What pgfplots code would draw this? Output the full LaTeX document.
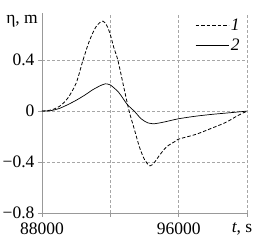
\documentclass[border=0pt]{standalone}
\usepackage{fontspec}
\setmainfont{Liberation Serif}
\usepackage{pgfplots}
\pgfplotsset{compat=1.18}
\newcommand\lblfont{\fontsize{17.5}{20}\selectfont}
\begin{document}
\begin{tikzpicture}
\begin{axis}[
  scale only axis, width=205pt, height=200pt,
  xmin=88000, xmax=100000, ymin=-0.8, ymax=0.77,
  axis lines=left,
  axis line style={gray!80, -},
  tick style={gray!80, thin},
  tick align=outside,
  major tick length=4pt,
  /pgf/number format/assume math mode=true,
  xticklabel style={font=\lblfont, yshift=-2pt},
  yticklabel style={font=\lblfont},
  xtick={88000,92000,96000,100000},
  xticklabels={88000,,96000,{\hspace*{-10pt}\textit{t}, s}},
  ytick={-0.8,-0.4,0,0.4},
  yticklabels={−0.8,−0.4,0,0.4},
  scaled x ticks=false,
  grid=major,
  major grid style={gray!70, dash pattern=on 3pt off 2pt, line width=0.6pt},
  legend style={at={(rel axis cs:0.99,0.99)}, anchor=north east, draw=none, fill=none, font=\lblfont\itshape, row sep=3pt},
  legend cell align=left,
  legend image code/.code={\draw[#1] (0pt,0pt) -- (33pt,0pt);},
  clip=false,
]
\addplot[black, line width=0.8pt, dash pattern=on 3.5pt off 2pt, smooth] coordinates {
(88000,0) (88500,0.008) (89000,0.035) (89500,0.1) (90000,0.22) (90400,0.4) (90800,0.56)
(91200,0.67) (91565,0.706) (91800,0.67) (92000,0.6) (92200,0.5) (92440,0.4) (92800,0.18)
(93100,0) (93400,-0.14) (93700,-0.28) (94000,-0.38) (94320,-0.43) (94600,-0.4) (94860,-0.35)
(95300,-0.28) (95830,-0.235) (96000,-0.22) (97000,-0.183) (97770,-0.143) (98740,-0.09)
(99400,-0.04) (100000,0)
};
\addlegendentry{1}
\addplot[black, line width=0.7pt, smooth] coordinates {
(88000,0) (88500,0.003) (89000,0.02) (89500,0.05) (90000,0.085) (90500,0.125) (91000,0.17)
(91500,0.205) (91700,0.214) (92000,0.205) (92500,0.145) (93000,0.05) (93400,0) (93800,-0.06)
(94200,-0.093) (94500,-0.1) (95000,-0.09) (95500,-0.075) (96000,-0.06) (97000,-0.04)
(98000,-0.025) (99000,-0.013) (100000,0)
};
\addlegendentry{2}
\node[font=\lblfont, anchor=east, inner sep=0pt] at ([xshift=-4pt]rel axis cs:0,0.96) {η, m};
\end{axis}
\pgfresetboundingbox
\useasboundingbox (-42pt,-30pt) rectangle (224pt,213pt);
\end{tikzpicture}
\end{document}
